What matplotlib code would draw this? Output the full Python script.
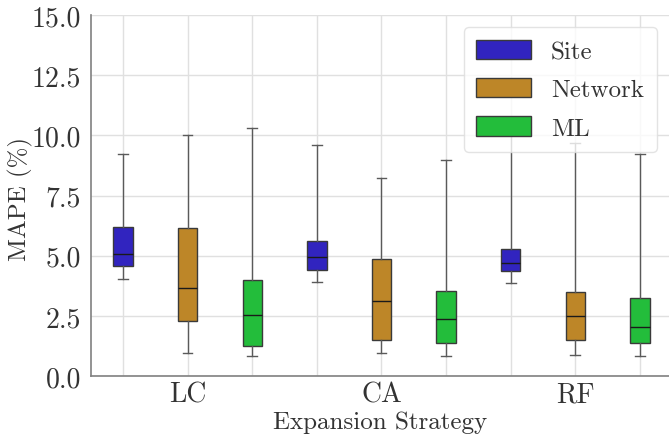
import matplotlib
matplotlib.use("Agg")
import matplotlib.pyplot as plt
from matplotlib.patches import Patch

# Datos (MAPE %)
estrategias = ["LC", "CA", "RF"]
metodos = ["Site", "Network", "ML"]
colores = ["#3124BF", "#BD8628", "#23BD3B"]

# orden: LC, CA, RF para cada metodo
site_whislo = [4.02, 3.89, 3.88]
site_q1 = [4.57, 4.42, 4.35]
site_med = [5.06, 4.93, 4.68]
site_q3 = [6.20, 5.62, 5.30]
site_whishi = [9.22, 9.58, 10.0]

network_whislo = [0.98, 0.94, 0.86]
network_q1 = [2.27, 1.51, 1.48]
network_med = [3.64, 3.10, 2.48]
network_q3 = [6.16, 4.86, 3.49]
network_whishi = [10.03, 8.23, 9.70]

ml_whislo = [0.82, 0.83, 0.83]
ml_q1 = [1.26, 1.37, 1.37]
ml_med = [2.52, 2.37, 2.02]
ml_q3 = [4.00, 3.53, 3.23]
ml_whishi = [10.30, 8.96, 9.21]

datos = {
    "Site": (site_whislo, site_q1, site_med, site_q3, site_whishi),
    "Network": (network_whislo, network_q1, network_med, network_q3, network_whishi),
    "ML": (ml_whislo, ml_q1, ml_med, ml_q3, ml_whishi),
}

plt.rcParams["font.family"] = "serif"
plt.rcParams["font.serif"] = ["cmr10", "DejaVu Serif"]
plt.rcParams["mathtext.fontset"] = "cm"
plt.rcParams["axes.unicode_minus"] = False
plt.rcParams["axes.formatter.use_mathtext"] = True

fig = plt.figure(figsize=(6.69, 4.39), dpi=100)
ax = fig.add_axes([0.1356, 0.141, 0.8644, 0.8226])

for i, est in enumerate(estrategias):
    for j, met in enumerate(metodos):
        lo, q1, med, q3, hi = datos[met]
        stats = [{"whislo": lo[i], "q1": q1[i], "med": med[i], "q3": q3[i],
                  "whishi": hi[i], "fliers": []}]
        pos = i * 3 + j
        ax.bxp(stats, positions=[pos], widths=0.3, patch_artist=True,
               showfliers=False,
               boxprops=dict(facecolor=colores[j], edgecolor="#3a3a3a", linewidth=1.0),
               medianprops=dict(color="#1a1a1a", linewidth=1.0),
               whiskerprops=dict(color="#5a5a5a", linewidth=1.0),
               capprops=dict(color="#5a5a5a", linewidth=1.0),
               zorder=3)

posiciones = list(range(9))
etiquetas = ["" if p % 3 != 1 else estrategias[p // 3] for p in posiciones]
ax.set_xticks(posiciones)
ax.set_xticklabels(etiquetas, fontsize=20)
ax.set_xlim(-0.5, 8.45)
ax.set_ylim(0, 15)
ax.set_yticks([0, 2.5, 5, 7.5, 10, 12.5, 15])
ax.set_yticklabels(["0.0", "2.5", "5.0", "7.5", "10.0", "12.5", "15.0"], fontsize=20)
ax.tick_params(axis="y", length=0, pad=7, colors="#333333")
ax.tick_params(axis="x", length=0, pad=4, colors="#333333")

ax.grid(True, color="#e0e0e0", linewidth=1.0, zorder=0)
ax.set_axisbelow(True)
for lado in ["top", "right"]:
    ax.spines[lado].set_visible(False)
for lado in ["left", "bottom"]:
    ax.spines[lado].set_color("#808080")
    ax.spines[lado].set_linewidth(1.2)

ax.set_xlabel("Expansion Strategy", fontsize=18, color="#333333", labelpad=2)
ax.set_ylabel("MAPE (%)", fontsize=18, color="#333333")
ax.yaxis.set_label_coords(-0.1, 0.493)

handles = [Patch(facecolor=c, edgecolor="#3a3a3a", label=m) for m, c in zip(metodos, colores)]
leg = ax.legend(handles=handles, loc="upper right", fontsize=18, frameon=True,
                framealpha=0.8, edgecolor="#dddddd", fancybox=True,
                handlelength=2.2, handletextpad=0.8, handleheight=0.8,
                borderpad=0.5, labelspacing=0.6, borderaxespad=0.5)
for t in leg.get_texts():
    t.set_color("#333333")

fig.savefig("out.png", dpi=100)
